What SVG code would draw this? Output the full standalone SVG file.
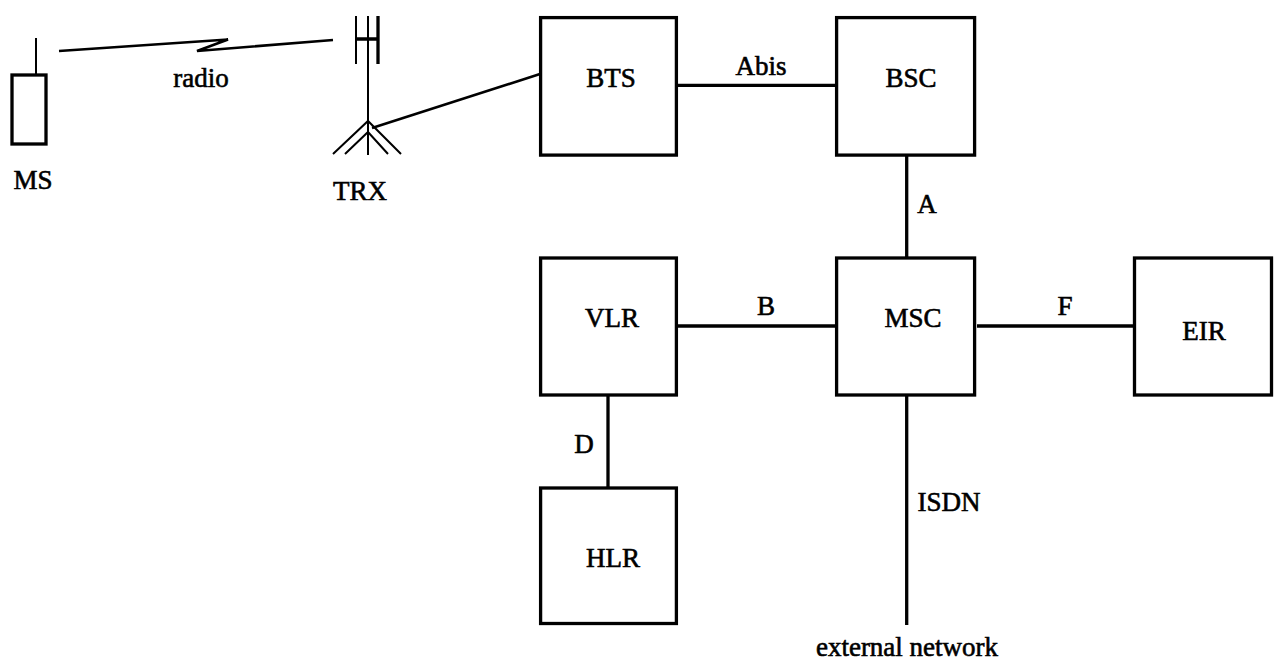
<svg xmlns="http://www.w3.org/2000/svg" width="1274" height="662" viewBox="0 0 1274 662">
<style>
.b{fill:#fff;stroke:#000;stroke-width:3.300}
.l{fill:none;stroke:#000;stroke-width:3.300}
.r{fill:none;stroke:#000;stroke-width:2.600}
.t{fill:none;stroke:#000;stroke-width:2}
text{font-family:"Liberation Serif",serif;font-size:27px;fill:#000;stroke:#000;stroke-width:.6;text-anchor:middle}
</style>
<rect width="1274" height="662" fill="#fff"/>
<g id="connectors">
<path class="l" d="M678 85.300H836M906.700 156V257M678 326H836M977 326H1134M608 396V487M906.700 396V625"/>
<path class="r" d="M372 128L540 74"/>
<path class="r" d="M59 51L228 39.500L197 51L333 40"/>
</g>
<g id="BTS"><rect class="b" x="540.600" y="17.600" width="135.800" height="137.500"/><text x="611" y="87">BTS</text></g>
<g id="BSC"><rect class="b" x="836.600" y="17.600" width="138" height="137.500"/><text x="911" y="87">BSC</text></g>
<g id="VLR"><rect class="b" x="540.600" y="258" width="135.800" height="137"/><text x="612" y="327">VLR</text></g>
<g id="MSC"><rect class="b" x="836.600" y="258" width="138" height="137"/><text x="913" y="327">MSC</text></g>
<g id="EIR"><rect class="b" x="1134.500" y="258" width="137" height="137"/><text x="1204" y="340">EIR</text></g>
<g id="HLR"><rect class="b" x="540.600" y="488" width="135.800" height="135.500"/><text x="613" y="567">HLR</text></g>
<g id="MS"><rect class="b" x="12" y="75" width="34" height="69"/><path class="t" d="M36 38V75"/><text x="33" y="189">MS</text></g>
<g id="TRX"><path class="t" d="M356 16V64M368 16V155M333 154L368 121L401 154M345 154L368 132L388 154"/><path class="l" d="M378 16V64M356 39H378"/><text x="360" y="200">TRX</text></g>
<g id="labels">
<text x="201" y="87">radio</text><text x="761" y="75">Abis</text><text x="927" y="213">A</text><text x="766" y="315">B</text><text x="1065" y="315">F</text><text x="584" y="453">D</text><text x="949" y="511">ISDN</text><text x="907" y="656">external network</text>
</g>
</svg>
